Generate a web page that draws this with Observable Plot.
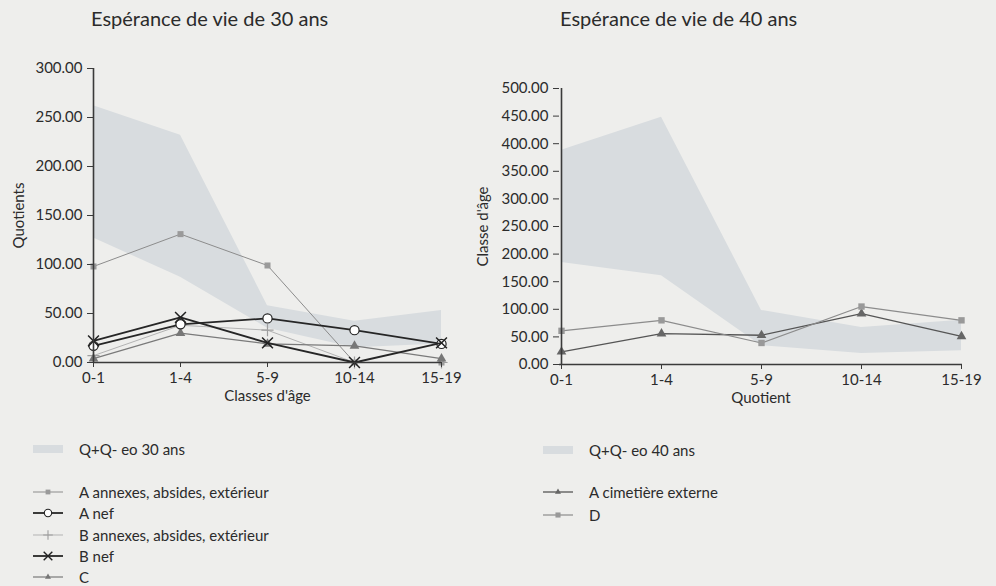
<!DOCTYPE html>
<html><head><meta charset="utf-8">
<script src="https://cdn.jsdelivr.net/npm/d3@7"></script>
<script src="https://cdn.jsdelivr.net/npm/@observablehq/plot@0.6"></script>
<style>
body{margin:0;background:#eeeeec;font-family:Lato,"Open Sans",sans-serif;color:#2b2b2b}
#page{position:relative;width:996px;height:586px;overflow:hidden;background:#eeeeec}
.title{position:absolute;font-size:20px;top:6px;white-space:nowrap}
.chart{position:absolute;top:0}
.legend{position:absolute;font-size:15px;white-space:nowrap}
.item{position:absolute;display:flex;align-items:center;height:16px;line-height:16px}
.item svg{margin-right:16px}
</style></head><body><div id="page"></div>
<script>
// ---------- data ----------
const ages = ["0-1", "1-4", "5-9", "10-14", "15-19"];
const yTicks30 = [0, 50, 100, 150, 200, 250, 300];
const yTicks40 = [0, 50, 100, 150, 200, 250, 300, 350, 400, 450, 500];

const q30Upper = [262, 232, 58, 42, 53];
const q30Lower = [127, 87, 35, 15, 19];
const aAnnexes = [98, 131, 99, 0, 0];
const aNef = [17, 39, 45, 33, 19];
const bAnnexes = [7, 38, 33, 0, 0];
const bNef = [22, 46, 20, 0, 20];
const cSeries = [4, 30, 19, 17, 4];

const q40Upper = [388, 448, 98, 67, 80];
const q40Lower = [185, 161, 34, 20, 25];
const aCimetiere = [23, 56, 53, 92, 51];
const dSeries = [61, 80, 39, 105, 80];

// ---------- styles ----------
const bandColor = "#d8dcdf";
const left = [
  {name: "A annexes, absides, extérieur", values: aAnnexes, stroke: "#8c8c8c", sw: 1, symbol: "square", fill: "#9a9a9a", mstroke: "none", r: 3.4},
  {name: "A nef", values: aNef, stroke: "#262626", sw: 1.8, symbol: "circle", fill: "#ffffff", mstroke: "#222", r: 4.6},
  {name: "B annexes, absides, extérieur", values: bAnnexes, stroke: "#b3b3b3", sw: 1, symbol: "plus", fill: "none", mstroke: "#9e9e9e", r: 4},
  {name: "B nef", values: bNef, stroke: "#262626", sw: 1.8, symbol: "times", fill: "none", mstroke: "#222", r: 5},
  {name: "C", values: cSeries, stroke: "#7a7a7a", sw: 1.2, symbol: "triangle", fill: "#777", mstroke: "none", r: 3.6}
];
const drawOrderLeft = [0, 2, 4, 1, 3];
const right = [
  {name: "A cimetière externe", values: aCimetiere, stroke: "#555", sw: 1.3, symbol: "triangle", fill: "#666", mstroke: "none", r: 3.6},
  {name: "D", values: dSeries, stroke: "#8c8c8c", sw: 1.2, symbol: "square", fill: "#999", mstroke: "none", r: 3.6}
];

const rows = (vals) => ages.map((a, i) => ({age: a, v: vals[i]}));
const bandRows = (lo, hi) => ages.map((a, i) => ({age: a, lo: lo[i], hi: hi[i]}));

function seriesMarks(s) {
  const data = rows(s.values);
  return [
    Plot.lineY(data, {x: "age", y: "v", stroke: s.stroke, strokeWidth: s.sw}),
    Plot.dot(data, {x: "age", y: "v", symbol: s.symbol, r: s.r, fill: s.fill,
      stroke: s.mstroke, strokeWidth: s.symbol === "times" ? 1.5 : 1.2})
  ];
}

function makeChart({width, height, mL, mR, mT, mB, yTicks, yMax, band, series, order, yLabel, yLabelOffset, xLabel}) {
  return Plot.plot({
    width, height,
    marginLeft: mL, marginRight: mR, marginTop: mT, marginBottom: mB,
    style: {background: "transparent", fontSize: "15px", fontFamily: "Lato, 'Open Sans', sans-serif", color: "#2b2b2b"},
    x: {type: "point", domain: ages, padding: 0},
    y: {domain: [0, yMax]},
    marks: [
      Plot.areaY(band, {x: "age", y1: "lo", y2: "hi", fill: bandColor}),
      ...order.map(i => seriesMarks(series[i])).flat(),
      Plot.ruleY([0], {stroke: "#3a3a3a", strokeWidth: 1.6}),
      Plot.ruleX([ages[0]], {stroke: "#3a3a3a", strokeWidth: 1.6}),
      Plot.axisY({ticks: yTicks, tickFormat: d3.format(".2f"), tickSize: 6, tickPadding: 5,
        label: yLabel, labelAnchor: "center", labelArrow: "none", labelOffset: yLabelOffset, stroke: "#3a3a3a"}),
      Plot.axisX({tickSize: 5, tickPadding: 5, label: xLabel, labelAnchor: "center", labelArrow: "none", labelOffset: 38, stroke: "#3a3a3a"})
    ]
  });
}

const page = document.getElementById("page");

const c1 = makeChart({width: 490, height: 420, mL: 93, mR: 49, mT: 68, mB: 58,
  yTicks: yTicks30, yMax: 300, band: bandRows(q30Lower, q30Upper), series: left, order: drawOrderLeft,
  yLabel: "Quotients", yLabelOffset: 80, xLabel: "Classes d'âge"});
c1.classList.add("chart"); c1.style.left = "0px";
page.appendChild(c1);

const c2 = makeChart({width: 526, height: 420, mL: 89, mR: 34, mT: 88, mB: 56,
  yTicks: yTicks40, yMax: 500, band: bandRows(q40Lower, q40Upper), series: right, order: [0, 1],
  yLabel: "Classe d'âge", yLabelOffset: 82, xLabel: "Quotient"});
c2.classList.add("chart"); c2.style.left = "470px";
page.appendChild(c2);

function addTitle(text, x) {
  const d = document.createElement("div");
  d.className = "title"; d.textContent = text; d.style.left = x + "px";
  page.appendChild(d);
}
addTitle("Espérance de vie de 30 ans", 91);
addTitle("Espérance de vie de 40 ans", 560);

const symMap = {square: d3.symbolSquare, circle: d3.symbolCircle, plus: d3.symbolPlus, times: d3.symbolTimes, triangle: d3.symbolTriangle2};
function swatch(s) {
  const svg = d3.create("svg").attr("width", 30).attr("height", 14);
  if (!s) {
    svg.append("rect").attr("x", 0).attr("y", 3).attr("width", 30).attr("height", 8).attr("fill", bandColor);
  } else {
    svg.append("line").attr("x1", 0).attr("x2", 30).attr("y1", 7).attr("y2", 7)
      .attr("stroke", s.stroke).attr("stroke-width", s.sw);
    svg.append("path").attr("transform", "translate(15,7)")
      .attr("d", d3.symbol(symMap[s.symbol], Math.PI * (s.r * 0.8) ** 2)())
      .attr("fill", s.fill).attr("stroke", s.mstroke).attr("stroke-width", s.symbol === "times" ? 1.4 : 1.1);
  }
  return svg.node();
}
function addLegendItem(s, label, x, y) {
  const d = document.createElement("div");
  d.className = "item legend";
  d.style.left = x + "px"; d.style.top = (y - 8) + "px";
  d.appendChild(swatch(s));
  const t = document.createElement("span"); t.textContent = label; d.appendChild(t);
  page.appendChild(d);
}
addLegendItem(null, "Q+Q- eo 30 ans", 33, 449);
const ysL = [492, 513, 535, 556, 577];
left.forEach((s, i) => addLegendItem(s, s.name, 33, ysL[i]));
addLegendItem(null, "Q+Q- eo 40 ans", 543, 450);
const ysR = [492, 515];
right.forEach((s, i) => addLegendItem(s, s.name, 543, ysR[i]));
</script>
</body></html>
